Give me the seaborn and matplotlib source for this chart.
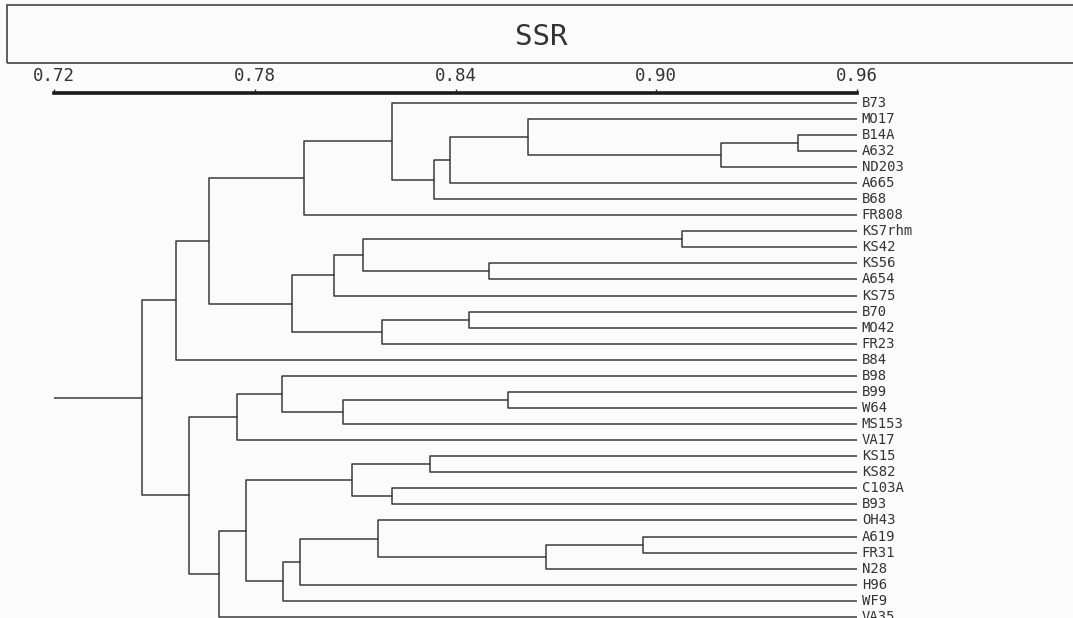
import numpy as np
import pandas as pd
import matplotlib.pyplot as plt
import seaborn as sns
from matplotlib.patches import Rectangle

# Leaves top to bottom
leaves = ['B73', 'MO17', 'B14A', 'A632', 'ND203', 'A665', 'B68', 'FR808',
          'KS7rhm', 'KS42', 'KS56', 'A654', 'KS75', 'B70', 'MO42', 'FR23',
          'B84', 'B98', 'B99', 'W64', 'MS153', 'VA17', 'KS15', 'KS82',
          'C103A', 'B93', 'OH43', 'A619', 'FR31', 'N28', 'H96', 'WF9', 'VA35']

merge_a = ['B14A', 'c1', 'MO17', 'c3', 'c4', 'B73', 'c6',
           'KS7rhm', 'KS56', 'c8', 'c10', 'B70', 'c12', 'c11', 'c7', 'c15',
           'B99', 'c17', 'B98', 'c19',
           'KS15', 'C103A', 'c21', 'A619', 'c24', 'OH43', 'c26', 'c27',
           'c23', 'c29', 'c20', 'c16']
merge_b = ['A632', 'ND203', 'c2', 'A665', 'B68', 'c5', 'FR808',
           'KS42', 'A654', 'c9', 'KS75', 'MO42', 'FR23', 'c13', 'c14', 'B84',
           'W64', 'MS153', 'c18', 'VA17',
           'KS82', 'B93', 'c22', 'FR31', 'N28', 'c25', 'H96', 'WF9',
           'c28', 'VA35', 'c30', 'c31']
merge_sim = [0.9424, 0.9193, 0.8617, 0.8383, 0.8336, 0.8210, 0.7947,
             0.9077, 0.8500, 0.8123, 0.8037, 0.8440, 0.8180, 0.7911, 0.7663, 0.7565,
             0.8557, 0.8064, 0.7881, 0.7747,
             0.8324, 0.8210, 0.8091, 0.8960, 0.8670, 0.8168, 0.7935, 0.7884,
             0.7774, 0.7693, 0.7603, 0.7463]

tick_vals = [0.72, 0.78, 0.84, 0.90, 0.96]
title = 'SSR'

line_col = '#3a3a3a'
text_col = '#333333'

# build the link paths
pos = {name: i for i, name in enumerate(leaves)}
height = {name: tick_vals[-1] for name in leaves}
rows = []
for k, (a, b, s) in enumerate(zip(merge_a, merge_b, merge_sim)):
    ya, yb = pos[a], pos[b]
    for x, y in [(height[a], ya), (s, ya), (s, yb), (height[b], yb)]:
        rows.append({'link': k, 'sim': x, 'row': y})
    pos[f'c{k + 1}'] = (ya + yb) / 2
    height[f'c{k + 1}'] = s
root = f'c{len(merge_a)}'
rows.append({'link': len(merge_a), 'sim': tick_vals[0], 'row': pos[root]})
rows.append({'link': len(merge_a), 'sim': height[root], 'row': pos[root]})
df = pd.DataFrame(rows)

sns.set_style('white')
plt.rcParams['font.family'] = ['DejaVu Sans Mono', 'DejaVu Sans']

fig = plt.figure(figsize=(10.73, 6.18), dpi=100, facecolor='#fbfbfb')
ax = fig.add_axes([54 / 1073, 0, 803 / 1073, 525 / 618])
ax.set_facecolor('#fbfbfb')

sns.lineplot(data=df, x='sim', y='row', units='link', estimator=None, sort=False,
             color=line_col, lw=1.1, ax=ax, legend=False)

ax.set_xlim(tick_vals[0], tick_vals[-1])
ax.set_ylim(32.07, -0.604)
ax.set_xlabel('')
ax.set_ylabel('')
ax.set_yticks([])
for side in ['left', 'right', 'bottom']:
    ax.spines[side].set_visible(False)
ax.spines['top'].set_linewidth(2.6)
ax.spines['top'].set_color('#1a1a1a')
ax.xaxis.tick_top()
ax.set_xticks(tick_vals)
ax.set_xticklabels([f'{v:.2f}' for v in tick_vals])
ax.tick_params(axis='x', direction='out', length=3, width=1, pad=3,
               labelsize=12.5, colors=text_col)

# leaf names, last one is cut by the page edge like in the scan
for name in leaves:
    ax.annotate(name, (tick_vals[-1], pos[name]), xytext=(3.5, 0),
                textcoords='offset points', fontsize=10, color=text_col,
                va='center', ha='left', annotation_clip=False)

# title box
fig.patches.append(Rectangle((7 / 1073, 1 - 63 / 618), 1.2, 58 / 618,
                             transform=fig.transFigure, fill=False,
                             ec='#444444', lw=1.2))
fig.text(541 / 1073, 1 - 37 / 618, title, fontsize=21, color=text_col,
         ha='center', va='center')

fig.savefig('out.png', dpi=100, facecolor=fig.get_facecolor())
